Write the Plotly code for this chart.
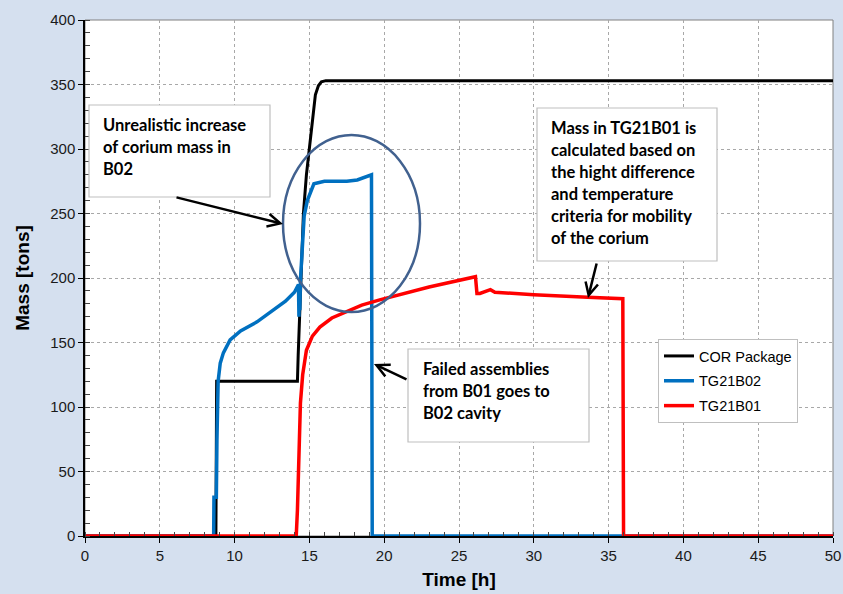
import plotly.graph_objects as go

# ---------------- data ----------------
cor_t = [0, 8.75, 8.8, 14.2, 14.25, 14.35, 14.45, 14.6, 14.8, 15.0, 15.2, 15.4, 15.6, 15.8, 16.1, 16.5, 50]
cor_m = [0, 0, 120, 120, 140, 175, 210, 250, 280, 300, 325, 342, 349, 352, 353, 353, 353]

b02_t = [0, 8.6, 8.62, 8.78, 8.82, 8.9, 9.04, 9.25, 9.7, 10.4, 11.5, 12.5, 13.4, 14.0, 14.2, 14.27, 14.3,
         14.33, 14.36, 14.4, 14.5, 14.65, 14.86, 15.1, 15.3, 16.0, 16.6, 17.5, 18.2, 19.15, 19.2, 50]
b02_m = [0, 0, 30, 30, 75, 120, 134, 142, 152, 159, 166, 174, 182, 189, 193, 195, 170,
         192, 175, 198, 222, 248, 260, 268, 273, 275, 275, 275, 276, 280, 0, 0]

b01_t = [0, 14.12, 14.2, 14.28, 14.4, 14.55, 14.8, 15.2, 15.7, 16.5, 17.5, 18.5, 19.7, 21.1, 23.0, 26.1,
         26.2, 26.4, 26.9, 27.1, 27.4, 30.0, 33.6, 35.95, 36.0, 50]
b01_m = [0, 0, 20, 67, 103, 125, 144, 155, 162, 169, 174, 179, 183, 187, 193, 201,
         188, 188, 190, 191, 189, 187, 185, 184, 0, 0]

series_names = ["COR Package", "TG21B02", "TG21B01"]
series_colors = ["#000000", "#0070C0", "#FF0000"]

x_ticks = [0, 5, 10, 15, 20, 25, 30, 35, 40, 45, 50]
y_ticks = [0, 50, 100, 150, 200, 250, 300, 350, 400]

note1 = ["Unrealistic increase", "of corium mass in", "B02"]
note2 = ["Mass in TG21B01 is", "calculated based on", "the hight difference",
         "and temperature", "criteria for mobility", "of the corium"]
note3 = ["Failed assemblies", "from B01 goes to", "B02 cavity"]

# ---------------- layout geometry (pixels) ----------------
W, H = 843, 594
L, R, T, B = 85, 833, 20, 536


def px(xp):
    return (xp - L) / (R - L)


def py(yp):
    return (B - yp) / (B - T)


def dx(xp):
    return (xp - L) / (R - L) * 50


def dy(yp):
    return (B - yp) / (B - T) * 400


fig = go.Figure()
for t, m, n, c, w in zip([cor_t, b02_t, b01_t], [cor_m, b02_m, b01_m], series_names, series_colors,
                         [3, 3.5, 3.5]):
    fig.add_trace(go.Scatter(x=t, y=m, name=n, mode="lines", line=dict(color=c, width=w), legendgroup=n))

shapes = []
annotations = []

# plot frame (thin gray on top/right)
shapes.append(dict(type="rect", xref="paper", yref="paper", x0=0, x1=1, y0=0, y1=1,
                   line=dict(color="#808080", width=1), layer="below"))

# ellipse
shapes.append(dict(type="circle", xref="x", yref="y", x0=dx(283), x1=dx(420), y0=dy(312), y1=dy(135),
                   line=dict(color="#41618F", width=2.5)))

textfont = dict(family="Lato, Carlito, Calibri, sans-serif", size=16.5, color="black")


def add_box(x0, y0, x1, y1, lines, tx, ty0, step=22):
    shapes.append(dict(type="rect", xref="paper", yref="paper", x0=px(x0), x1=px(x1), y0=py(y1), y1=py(y0),
                       line=dict(color="#BFBFBF", width=1.2), fillcolor="white", layer="above"))
    for i, s in enumerate(lines):
        annotations.append(dict(xref="paper", yref="paper", x=px(tx), y=py(ty0 + i * step), text="<b>%s</b>" % s,
                                showarrow=False, xanchor="left", yanchor="middle", font=textfont))


add_box(89, 105, 270, 197, note1, 101, 125)
add_box(537, 108, 717, 261, note2, 549, 128)
add_box(408, 349, 589, 442, note3, 421, 369)


def add_arrow(x0, y0, x1, y1):
    annotations.append(dict(x=dx(x1), y=dy(y1), ax=dx(x0), ay=dy(y0), xref="x", yref="y", axref="x", ayref="y",
                            text="", showarrow=True, arrowhead=5, arrowsize=1, arrowwidth=2.5,
                            arrowcolor="black", standoff=0))


add_arrow(175, 197, 283, 224)
add_arrow(597, 262, 588, 298)
add_arrow(408, 380, 374, 364)

axis_font = dict(family="Arial, Liberation Sans, sans-serif", size=15, color="#1a1a1a")
title_font = dict(family="Arial, Liberation Sans, sans-serif", size=19, color="black")

fig.update_layout(
    width=W, height=H,
    margin=dict(l=L, r=W - R, t=T, b=H - B),
    paper_bgcolor="#D5E0EF",
    plot_bgcolor="white",
    showlegend=True,
    legend=dict(x=px(658), y=py(339), xanchor="left", yanchor="top", bgcolor="white",
                bordercolor="#BFBFBF", borderwidth=1,
                font=dict(family="Arial, Liberation Sans, sans-serif", size=14.5, color="black"),
                itemwidth=30, tracegroupgap=3),
    shapes=shapes,
    annotations=annotations,
    xaxis=dict(range=[0, 50], tickvals=x_ticks, ticktext=[str(v) for v in x_ticks], automargin=False,
               showgrid=True, gridcolor="#A8A8A8", griddash="dot", gridwidth=1,
               showline=True, linecolor="black", linewidth=1.5,
               ticks="outside", ticklen=5, tickcolor="black",
               minor=dict(dtick=1, ticks="inside", ticklen=4, tickcolor="#444", showgrid=False),
               tickfont=axis_font, zeroline=False,
               title=dict(text="<b>Time [h]</b>", font=title_font, standoff=10)),
    yaxis=dict(range=[0, 400], tickvals=y_ticks, ticktext=[str(v) for v in y_ticks], automargin=False,
               showgrid=True, gridcolor="#A8A8A8", griddash="dot", gridwidth=1,
               showline=True, linecolor="black", linewidth=1.5,
               ticks="outside", ticklen=5, tickcolor="black",
               minor=dict(dtick=10, ticks="inside", ticklen=5, tickcolor="#444", showgrid=False),
               tickfont=axis_font, zeroline=False,
               title=dict(text="<b>Mass [tons]</b>", font=title_font, standoff=16)),
)

fig.write_html("out.html")
